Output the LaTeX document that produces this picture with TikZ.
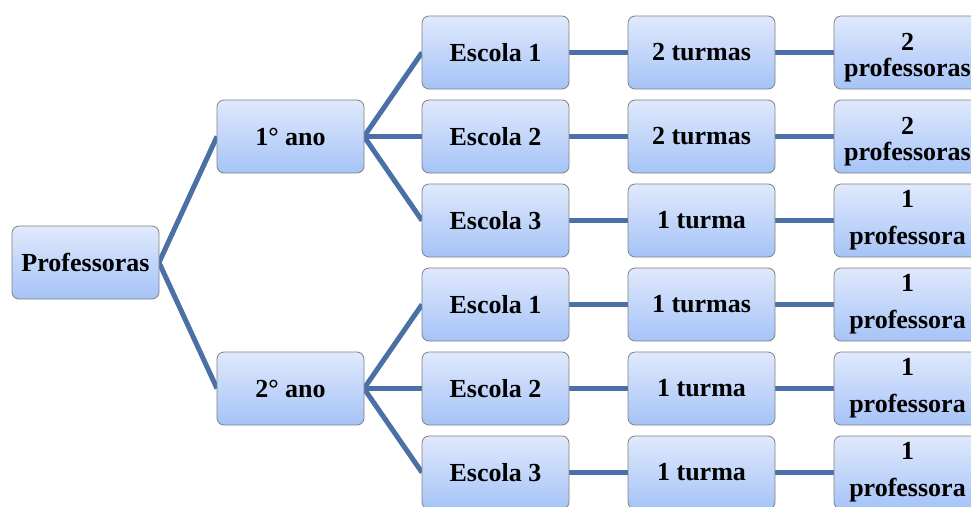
\documentclass[tikz,border=0pt]{standalone}
\usepackage{fontspec}
\setmainfont{Liberation Serif}
\usepackage{tikz}
\usetikzlibrary{positioning,calc,backgrounds}

\definecolor{boxtop}{RGB}{224,233,252}
\definecolor{boxbot}{RGB}{165,195,247}
\definecolor{boxline}{RGB}{128,128,128}
\definecolor{linkblue}{RGB}{74,112,166}

\begin{document}
\begin{tikzpicture}[
    x=1pt, y=1pt,
    node distance=11pt and 58pt,
    box/.style={rectangle, draw=boxline, line width=0.8pt, top color=boxtop, bottom color=boxbot, minimum width=147pt, minimum height=73pt, rounded corners=7pt, outer sep=0pt, align=center, font=\bfseries\fontsize{26}{31}\selectfont},
    tight/.style={box, font=\bfseries\fontsize{26}{26}\selectfont},
    loose/.style={box, font=\bfseries\fontsize{26}{37}\selectfont},
    link/.style={draw=linkblue, line width=5pt}
]
    \useasboundingbox (0,0) rectangle (971,-506);

    \node[box] (e11) at (495.5,-52.5) {Escola 1};
    \node[box, below=of e11] (e12) {Escola 2};
    \node[box, below=of e12] (e13) {Escola 3};
    \node[box, below=of e13] (e21) {Escola 1};
    \node[box, below=of e21] (e22) {Escola 2};
    \node[box, below=of e22] (e23) {Escola 3};

    \node[box, right=59pt of e11] (t11) {2 turmas};
    \node[box, right=59pt of e12] (t12) {2 turmas};
    \node[box, right=59pt of e13] (t13) {1 turma};
    \node[box, right=59pt of e21] (t21) {1 turmas};
    \node[box, right=59pt of e22] (t22) {1 turma};
    \node[box, right=59pt of e23] (t23) {1 turma};

    \node[tight, right=59pt of t11] (p11) {\rule{0pt}{27pt}2\\professoras};
    \node[tight, right=59pt of t12] (p12) {\rule{0pt}{27pt}2\\professoras};
    \node[loose, right=59pt of t13] (p13) {1\\professora};
    \node[loose, right=59pt of t21] (p21) {1\\professora};
    \node[loose, right=59pt of t22] (p22) {1\\professora};
    \node[loose, right=59pt of t23] (p23) {1\\professora};

    \node[box, left=of e12] (ano1) {1° ano};
    \node[box, left=of e22] (ano2) {2° ano};
    \coordinate (mid) at ($(ano1.west)!0.5!(ano2.west)$);
    \node[box, left=of mid] (prof) {Professoras};

    \begin{scope}[on background layer]
        \draw[link] (prof.east) -- (ano1.west);
        \draw[link] (prof.east) -- (ano2.west);
        \foreach \a/\i in {ano1/1, ano2/2} {
            \draw[link] (\a.east) -- (e\i1.west);
            \draw[link] (\a.east) -- (e\i2.west);
            \draw[link] (\a.east) -- (e\i3.west);
        }
        \foreach \r in {11,12,13,21,22,23} {
            \draw[link] (e\r.east) -- (t\r.west);
            \draw[link] (t\r.east) -- (p\r.west);
        }
    \end{scope}
\end{tikzpicture}
\end{document}
